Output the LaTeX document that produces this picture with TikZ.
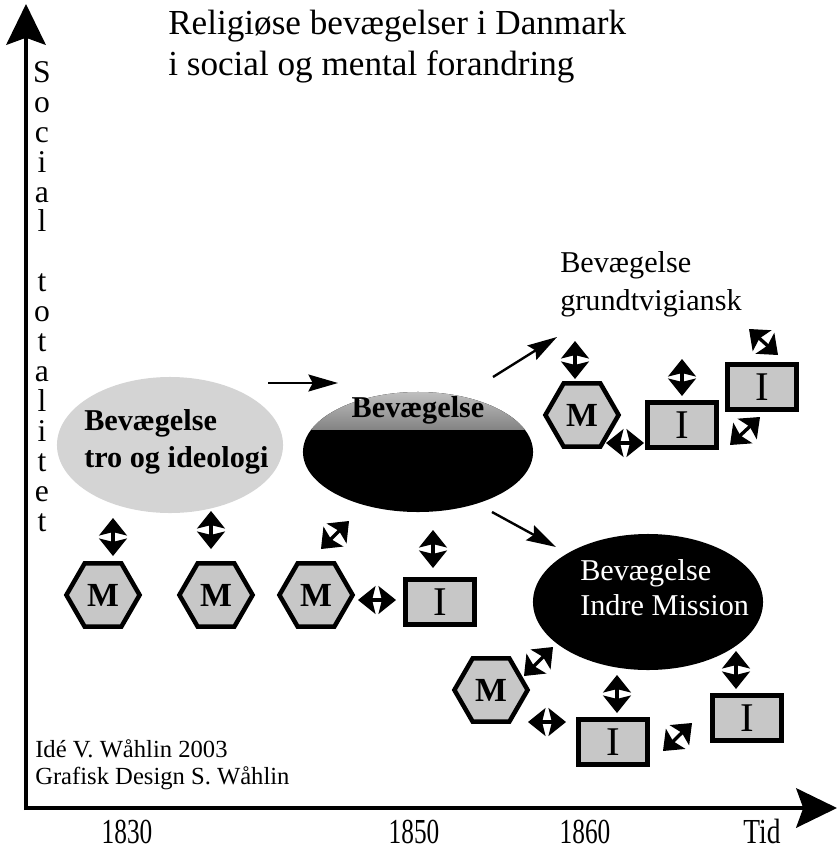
\documentclass[tikz,border=0pt]{standalone}
\usepackage{fontspec}
\setmainfont{Liberation Serif}
\usetikzlibrary{shapes.geometric,arrows.meta}
\begin{document}
\begin{tikzpicture}[x=0.025cm,y=-0.025cm,
  hexm/.style={regular polygon, regular polygon sides=6, draw=black, line width=3.2pt,
    fill=black!22, minimum size=1.83cm, inner sep=0pt,
    font=\fontsize{24}{24}\selectfont\bfseries},
  recti/.style={rectangle, draw=black, line width=3.2pt, fill=black!22,
    minimum width=1.72cm, minimum height=1.12cm, inner sep=0pt,
    font=\fontsize{29}{29}\selectfont},
  dhead/.tip={Stealth[length=12.5pt,width=20pt,inset=2.5pt,line width=1pt]},
  dbl/.style={line width=2.4pt, dhead-dhead},
  flow/.style={line width=1.7pt, -{Stealth[length=21pt,width=12pt,inset=3pt]}},
  axis/.style={line width=2.8pt, -{Stealth[length=29pt,width=28pt,inset=5pt]}},
  big/.style={inner sep=0pt, font=\fontsize{21.5}{25.6}\selectfont},
  bigb/.style={inner sep=0pt, font=\fontsize{21.5}{25.6}\selectfont\bfseries},
  title/.style={inner sep=0pt, font=\fontsize{25}{28.5}\selectfont},
  small/.style={inner sep=0pt, font=\fontsize{17.5}{22.8}\selectfont},
  year/.style={inner sep=0pt, font=\fontsize{25}{25}\selectfont},
  blob/.style={ellipse, draw=none, inner sep=0pt}
]
\useasboundingbox (0,0) rectangle (840,854);

% axes
\coordinate (o) at (26,810);
\coordinate (ytop) at (26,4);
\coordinate (xo) at (24,808);
\coordinate (xend) at (837,808);
\draw[axis] (o) -- (ytop);
\draw[axis] (xo) -- (xend);

% title
\node[title, anchor=base west] (title1) at (168,35) {Religiøse bevægelser i Danmark};
\node[title, anchor=base west] (title2) at (168,75) {i social og mental forandring};

% vertical axis label
\node[inner sep=0pt, anchor=north, align=center, font=\fontsize{22.5}{21.3}\selectfont]
  (ylab) at (42,61) {S\\o\\c\\i\\a\\l\\[21.3pt]t\\o\\t\\a\\l\\i\\t\\e\\t};

% ellipses
\node[blob, fill=black!17, minimum width=5.65cm, minimum height=3.4cm] (e1) at (170,445) {};
\node[bigb, anchor=base west] (e1a) at (84,430) {Bevægelse};
\node[bigb, anchor=base west] (e1b) at (84,467) {tro og ideologi};

\node[blob, fill=black, minimum width=5.75cm, minimum height=3.0cm,
  path picture={\shade[top color=black!25, bottom color=black]
    (path picture bounding box.north west) rectangle
    ([yshift=-0.95cm]path picture bounding box.north east);}] (e2) at (418,452) {};
\node[bigb, anchor=base] (e2a) at (418,417) {Bevægelse};

\node[blob, fill=black, minimum width=5.75cm, minimum height=3.4cm] (e3) at (648,602) {};
\node[big, text=white, anchor=base west] (e3a) at (580,580) {Bevægelse};
\node[big, text=white, anchor=base west] (e3b) at (580,615) {Indre Mission};

\node[big, anchor=base west] (g1) at (560,272) {Bevægelse};
\node[big, anchor=base west] (g2) at (560,310) {grundtvigiansk};

% flow arrows
\coordinate (f1s) at (268,383); \coordinate (f1e) at (338,383);
\coordinate (f2s) at (493,377); \coordinate (f2e) at (557,337);
\coordinate (f3s) at (492,512); \coordinate (f3e) at (556,547);
\draw[flow] (f1s) -- (f1e);
\draw[flow] (f2s) -- (f2e);
\draw[flow] (f3s) -- (f3e);

% M and I nodes
\node[hexm] (m1) at (103,595) {M};
\node[hexm] (m2) at (216,595) {M};
\node[hexm] (m3) at (316,595) {M};
\node[recti] (i1) at (440,602) {I};
\node[hexm] (m4) at (582,415) {M};
\node[recti] (i2) at (682,425) {I};
\node[recti] (i3) at (762,387) {I};
\node[hexm] (m5) at (491,690) {M};
\node[recti] (i4) at (613,742) {I};
\node[recti] (i5) at (747,718) {I};

% double arrows
\coordinate (d1a) at (113,518); \coordinate (d1b) at (113,556);
\coordinate (d2a) at (211,511); \coordinate (d2b) at (211,549);
\coordinate (d3a) at (321,549); \coordinate (d3b) at (349,521);
\coordinate (d4a) at (358,600); \coordinate (d4b) at (396,600);
\coordinate (d5a) at (433,530); \coordinate (d5b) at (433,568);
\coordinate (d6a) at (575,341); \coordinate (d6b) at (575,379);
\coordinate (d7a) at (682,359); \coordinate (d7b) at (682,396);
\coordinate (d8a) at (606,443); \coordinate (d8b) at (644,443);
\coordinate (d9a) at (749,329); \coordinate (d9b) at (778,355);
\coordinate (d10a) at (730,445); \coordinate (d10b) at (760,417);
\coordinate (d11a) at (524,676); \coordinate (d11b) at (553,647);
\coordinate (d12a) at (528,722); \coordinate (d12b) at (566,722);
\coordinate (d13a) at (617,675); \coordinate (d13b) at (617,713);
\coordinate (d14a) at (663,751); \coordinate (d14b) at (692,723);
\coordinate (d15a) at (736,651); \coordinate (d15b) at (736,689);
\foreach \k in {1,...,15} { \draw[dbl] (d\k a) -- (d\k b); }

% footnote
\node[small, anchor=base west] (n1) at (35,757) {Idé V. Wåhlin 2003};
\node[small, anchor=base west] (n2) at (35,784) {Grafisk Design S. Wåhlin};

% time labels
\node[year, anchor=base] (y1) at (127,843) {\scalebox{0.72}[1]{1830}};
\node[year, anchor=base] (y2) at (414,843) {\scalebox{0.72}[1]{1850}};
\node[year, anchor=base] (y3) at (585,843) {\scalebox{0.72}[1]{1860}};
\node[year, anchor=base] (y4) at (762,843) {\scalebox{0.78}[1]{Tid}};
\end{tikzpicture}
\end{document}
